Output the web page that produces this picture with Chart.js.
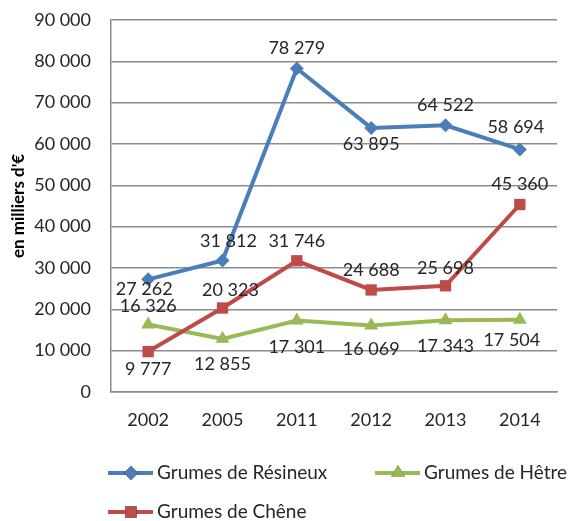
<!DOCTYPE html>
<html lang="fr">
<head>
  <meta charset="UTF-8" />
  <title>Grumes</title>
  <script src="https://cdn.jsdelivr.net/npm/chart.js"></script>
  <style>
    html, body { margin: 0; padding: 0; background: #fff; }
    #wrap { width: 573px; height: 521px; }
  </style>
</head>
<body>
  <div id="wrap"><canvas id="chart" width="573" height="521"></canvas></div>
  <script>
const years = ['2002', '2005', '2011', '2012', '2013', '2014'];
const resineux = [27262, 31812, 78279, 63895, 64522, 58694];
const chene = [9777, 20323, 31746, 24688, 25698, 45360];
const hetre = [16326, 12855, 17301, 16069, 17343, 17504];
const seriesNames = ['Grumes de Résineux', 'Grumes de Chêne', 'Grumes de Hêtre'];

// where each value label sits relative to its point (px)
const labelDy = [
  [10, -19, -20, 16, -20, -22],
  [18, -18, -20, -20, -18, -20],
  [-18, 25, 27, 24, 26, 21]
];
const labelDx = [
  [-4, 6, 0, 0, 0, -4],
  [0, 8, 0, 0, 0, 0],
  [0, 0, 0, 0, 0, -8]
];

const FONT = 'Lato, "Open Sans", sans-serif';
const TXT = '#262626';

function fmt(v) {
  return String(v).replace(/\B(?=(\d{3})+(?!\d))/g, ' ');
}

const valueLabels = {
  id: 'valueLabels',
  afterDatasetsDraw(chart) {
    const ctx = chart.ctx;
    ctx.save();
    ctx.font = '18px ' + FONT;
    ctx.fillStyle = TXT;
    ctx.textAlign = 'center';
    ctx.textBaseline = 'middle';
    chart.data.datasets.forEach((ds, i) => {
      chart.getDatasetMeta(i).data.forEach((pt, j) => {
        ctx.fillText(fmt(ds.data[j]), pt.x + labelDx[i][j], pt.y + labelDy[i][j]);
      });
    });
    ctx.restore();
  }
};

// legend with line + marker, like the spreadsheet one
const lineLegend = {
  id: 'lineLegend',
  afterDraw(chart) {
    const ctx = chart.ctx;
    const slots = [[108, 473], [108, 512], [375, 473]];
    ctx.save();
    chart.data.datasets.forEach((ds, i) => {
      const [x, y] = slots[i];
      ctx.strokeStyle = ds.borderColor;
      ctx.lineWidth = 4;
      ctx.beginPath();
      ctx.moveTo(x, y);
      ctx.lineTo(x + 45, y);
      ctx.stroke();
      Chart.helpers.drawPoint(ctx, {
        pointStyle: ds.pointStyle, radius: ds.pointRadius, rotation: 0, borderWidth: 0
      }, x + 23, y);
      ctx.fillStyle = ds.borderColor;
      ctx.fill();
      ctx.fillStyle = TXT;
      ctx.font = '19px ' + FONT;
      ctx.textBaseline = 'middle';
      ctx.textAlign = 'left';
      ctx.fillText(ds.label, x + 49, y);
    });
    ctx.restore();
  }
};

new Chart(document.getElementById('chart'), {
  type: 'line',
  data: {
    labels: years,
    datasets: [
      { label: seriesNames[0], data: resineux, borderColor: '#4A7EBB', backgroundColor: '#4A7EBB',
        pointStyle: 'rectRot', pointRadius: 7 },
      { label: seriesNames[1], data: chene, borderColor: '#BE4B48', backgroundColor: '#BE4B48',
        pointStyle: 'rect', pointRadius: 8 },
      { label: seriesNames[2], data: hetre, borderColor: '#98B954', backgroundColor: '#98B954',
        pointStyle: 'triangle', pointRadius: 8 }
    ]
  },
  options: {
    responsive: false,
    animation: false,
    elements: {
      line: { borderWidth: 4, tension: 0 },
      point: { borderWidth: 0, hoverRadius: 8 }
    },
    layout: { autoPadding: false, padding: { left: 0, right: 16, top: 20, bottom: 89 } },
    plugins: {
      legend: { display: false },
      tooltip: { enabled: false }
    },
    scales: {
      x: {
        offset: true,
        grid: { display: false },
        border: { color: '#8c8c8c', width: 1.5 },
        ticks: { color: TXT, font: { family: FONT, size: 18 }, padding: 9 },
        afterFit(scale) { scale.height = 40; }
      },
      y: {
        min: 0,
        max: 90000,
        ticks: {
          stepSize: 10000,
          color: TXT,
          font: { family: FONT, size: 18 },
          padding: 20,
          callback: v => fmt(v)
        },
        grid: { color: '#8c8c8c', lineWidth: 1.5, drawTicks: false },
        border: { color: '#8c8c8c', width: 1.5 },
        title: {
          display: true,
          text: "en milliers d'€",
          color: '#000',
          font: { family: FONT, size: 17, weight: 'bold' },
          padding: { top: 8, bottom: 0 }
        },
        afterFit(scale) {
          scale.width = 111;
          scale.paddingTop = 0;
          scale.paddingBottom = 0;
        }
      }
    }
  },
  plugins: [valueLabels, lineLegend]
});
  </script>
</body>
</html>
